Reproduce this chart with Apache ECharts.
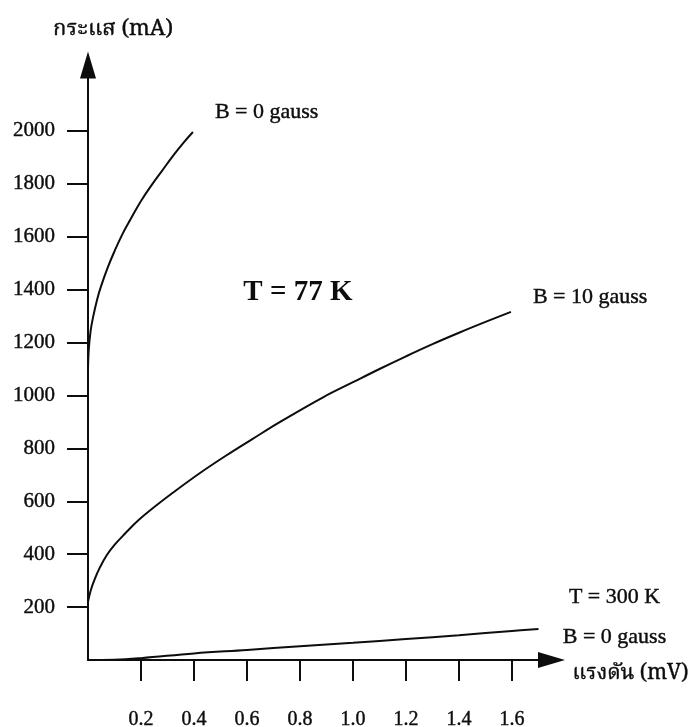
<!DOCTYPE html>
<html>
<head>
<meta charset="utf-8">
<script src="https://cdn.jsdelivr.net/npm/echarts@6/dist/echarts.min.js"></script>
<style>
  html, body { margin: 0; padding: 0; background: #fff; }
  #chart { width: 693px; height: 727px; }
</style>
</head>
<body>
<div id="chart"></div>
<script>
// Axis ticks (voltage in mV, current in mA)
const voltTicks = [0.2, 0.4, 0.6, 0.8, 1.0, 1.2, 1.4, 1.6];
const currentTicks = [200, 400, 600, 800, 1000, 1200, 1400, 1600, 1800, 2000];

// T = 77 K, B = 0 gauss : [voltage mV, current mA]
const coldNoField = [
  [0, 1100], [0.003, 1175], [0.01, 1245], [0.02, 1300], [0.035, 1365], [0.05, 1415],
  [0.075, 1485], [0.1, 1545], [0.13, 1610], [0.16, 1665], [0.2, 1735], [0.24, 1795],
  [0.28, 1850], [0.32, 1905], [0.36, 1955], [0.396, 1996]
];

// T = 77 K, B = 10 gauss
const coldWithField = [
  [0, 220], [0.01, 262], [0.025, 305], [0.045, 350], [0.07, 395], [0.1, 435],
  [0.14, 478], [0.19, 528], [0.25, 578], [0.32, 632], [0.42, 705], [0.52, 772],
  [0.62, 835], [0.725, 900], [0.887, 993], [1.0, 1050], [1.1, 1100], [1.2, 1148],
  [1.3, 1194], [1.4, 1237], [1.5, 1278], [1.596, 1316]
];

// T = 300 K, B = 0 gauss
const warmNoField = [
  [0, 0], [0.1, 1], [0.2, 7], [0.4, 25], [0.6, 38], [0.8, 52],
  [1.0, 65], [1.2, 79], [1.4, 94], [1.6, 110], [1.7, 117]
];

const serif = 'Liberation Serif, "Times New Roman", serif';
const thai = '"Noto Serif Thai", "Noto Sans Thai", Garuda, Loma, "Liberation Serif", serif';
const ink = '#0d0d0d';

const chart = echarts.init(document.getElementById('chart'), null, { renderer: 'canvas' });

const lineBase = {
  type: 'line',
  showSymbol: false,
  symbol: 'none',
  smooth: 0.4,
  clip: false,
  lineStyle: { color: ink, width: 2 },
  silent: true
};

// slight outline thickens the serif glyphs a little
const heavy = { textBorderColor: ink, textBorderWidth: 0.4 };
const labelText = Object.assign({ fontFamily: serif, fontSize: 22, color: ink }, heavy);

chart.setOption({
  animation: false,
  backgroundColor: '#fff',
  grid: { left: 88, right: 154.5, top: 78, bottom: 67, outerBoundsMode: 'none' },
  xAxis: {
    type: 'value',
    min: 0,
    max: 1.7,
    name: 'แรงดัน (mV)',
    nameLocation: 'end',
    nameGap: 34,
    nameTextStyle: Object.assign({ fontFamily: thai, fontSize: 21, color: ink, verticalAlign: 'top', padding: [5, 0, 0, 0] }, heavy),
    splitLine: { show: false },
    axisLine: {
      show: true,
      lineStyle: { color: ink, width: 2 },
      symbol: ['none', 'triangle'],
      symbolSize: [16, 27],
      symbolOffset: [0, 13]
    },
    axisTick: { show: true, length: 21, inside: false, customValues: voltTicks, lineStyle: { color: ink, width: 2 } },
    axisLabel: Object.assign({
      show: true,
      customValues: voltTicks,
      margin: 50,
      formatter: v => v.toFixed(1),
      fontFamily: serif, fontSize: 20, color: ink
    }, heavy)
  },
  yAxis: {
    type: 'value',
    min: 0,
    max: 2200,
    name: 'กระแส (mA)',
    nameLocation: 'end',
    nameGap: 36,
    nameTextStyle: Object.assign({ fontFamily: thai, fontSize: 22, color: ink, align: 'center', padding: [0, 0, 0, 50] }, heavy),
    splitLine: { show: false },
    axisLine: {
      show: true,
      lineStyle: { color: ink, width: 2 },
      symbol: ['none', 'triangle'],
      symbolSize: [16, 27],
      symbolOffset: [0, 13]
    },
    axisTick: { show: true, length: 21, inside: false, customValues: currentTicks, lineStyle: { color: ink, width: 2 } },
    axisLabel: Object.assign({
      show: true,
      customValues: currentTicks,
      margin: 33,
      formatter: v => String(v),
      fontFamily: serif, fontSize: 21, color: ink
    }, heavy)
  },
  series: [
    Object.assign({}, lineBase, {
      name: 'B = 0 gauss (77 K)',
      data: coldNoField,
      endLabel: Object.assign({ show: true, formatter: 'B = 0 gauss', distance: 0, offset: [22, -20], align: 'left', verticalAlign: 'middle' }, labelText)
    }),
    Object.assign({}, lineBase, {
      name: 'B = 10 gauss (77 K)',
      data: coldWithField,
      endLabel: Object.assign({ show: true, formatter: 'B = 10 gauss', distance: 0, offset: [22, -15], align: 'left', verticalAlign: 'middle' }, labelText),
      markPoint: {
        silent: true,
        symbol: 'circle',
        symbolSize: 0,
        data: [{ coord: [0.792, 1391], value: 'T = 77 K' }],
        label: {
          show: true,
          position: 'inside',
          formatter: 'T = 77 K',
          fontFamily: serif, fontSize: 29, fontWeight: 'bold', color: ink
        }
      }
    }),
    Object.assign({}, lineBase, {
      name: 'B = 0 gauss (300 K)',
      data: warmNoField,
      endLabel: Object.assign({ show: true, formatter: 'T = 300 K\nB = 0 gauss', distance: 0, offset: [76, -12], align: 'center', verticalAlign: 'middle', lineHeight: 40 }, labelText)
    })
  ]
});
</script>
</body>
</html>
